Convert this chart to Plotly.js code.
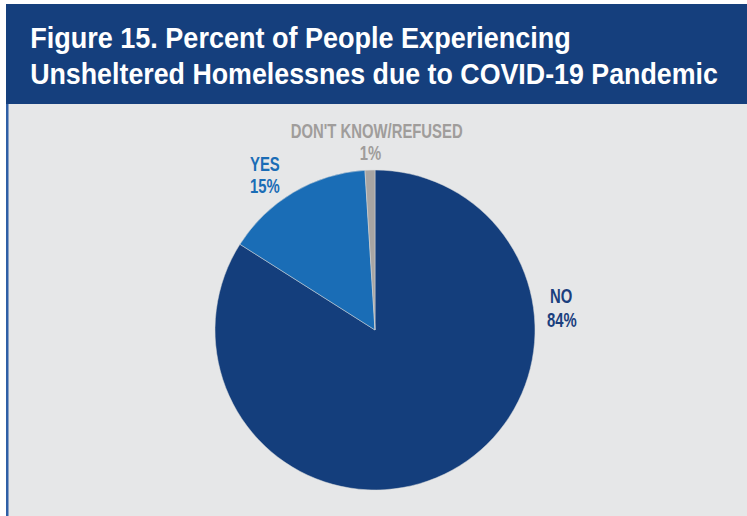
<!DOCTYPE html>
<html>
<head>
<meta charset="utf-8">
<script src="https://cdn.plot.ly/plotly-3.0.1.min.js"></script>
<style>
html,body{margin:0;padding:0;background:#fff;}
#chart{width:747px;height:516px;}
</style>
</head>
<body>
<div id="chart"></div>
<script>
var categories = ["NO", "YES", "DON'T KNOW/REFUSED"];
var values = [84, 15, 1];
var percentLabels = ["84%", "15%", "1%"];
var sliceColors = ["#143e7c", "#1a6db6", "#a8a5a3"];
var labelColors = ["#1b3f7e", "#1a6db6", "#a09d9b"];
var titleLines = ["Figure 15. Percent of People Experiencing", "Unsheltered Homelessnes due to COVID-19 Pandemic"];

var W = 747, H = 516;
function px(x){ return x / W; }
function py(y){ return 1 - y / H; }

var FONT = "Liberation Sans, Arial, sans-serif";

var trace = {
  type: 'pie',
  labels: categories,
  values: values,
  sort: false,
  direction: 'clockwise',
  rotation: 0,
  textinfo: 'none',
  hoverinfo: 'label+percent',
  marker: {colors: sliceColors, line: {color: '#d9dadb', width: 0.5}},
  domain: {x: [px(215), px(535)], y: [py(490), py(170)]},
  showlegend: false
};

// label layout: [name position, percent position] in pixels
var labelPos = [
  {nx: 548, ny: 296, px_: 545, py_: 319.5, anchor: 'left'},
  {nx: 248, ny: 164, px_: 248, py_: 186, anchor: 'left'},
  {nx: 376, ny: 131, px_: 370, py_: 153, anchor: 'center'}
];

var annotations = [];
var squeeze = []; // per annotation: {mode, value, origin}
categories.forEach(function(c, i){
  var p = labelPos[i];
  annotations.push({
    text: '<b>' + c + '</b>', x: px(p.nx), y: py(p.ny), xref: 'paper', yref: 'paper',
    xanchor: p.anchor, yanchor: 'middle', showarrow: false,
    font: {family: FONT, size: 20, color: labelColors[i]}
  });
  squeeze.push({origin: p.anchor});
  annotations.push({
    text: '<b>' + percentLabels[i] + '</b>', x: px(p.px_), y: py(p.py_), xref: 'paper', yref: 'paper',
    xanchor: p.anchor, yanchor: 'middle', showarrow: false,
    font: {family: FONT, size: 20, color: labelColors[i]}
  });
  squeeze.push({origin: p.anchor});
});

var titleY = [38, 74];
var titleWidth = [541, 688];
titleLines.forEach(function(t, i){
  annotations.push({
    text: '<b>' + t + '</b>', x: px(28), y: py(titleY[i]), xref: 'paper', yref: 'paper',
    xanchor: 'left', yanchor: 'middle', showarrow: false,
    font: {family: FONT, size: 29, color: '#ffffff'}
  });
  squeeze.push({origin: 'left', width: titleWidth[i]});
});

var layout = {
  width: W, height: H,
  margin: {l: 0, r: 0, t: 0, b: 0},
  paper_bgcolor: '#e6e7e8',
  plot_bgcolor: '#e6e7e8',
  shapes: [
    {type: 'rect', xref: 'paper', yref: 'paper', x0: 0, x1: 1, y0: py(4), y1: 1, fillcolor: '#ffffff', line: {width: 0}, layer: 'below'},
    {type: 'rect', xref: 'paper', yref: 'paper', x0: 0, x1: px(6), y0: 0, y1: 1, fillcolor: '#ffffff', line: {width: 0}, layer: 'below'},
    {type: 'rect', xref: 'paper', yref: 'paper', x0: px(6), x1: 1, y0: py(104), y1: py(4), fillcolor: '#153f7d', line: {width: 0}, layer: 'below'},
    {type: 'rect', xref: 'paper', yref: 'paper', x0: px(6), x1: px(8.5), y0: 0, y1: py(104), fillcolor: '#2e5fa6', line: {width: 0}, layer: 'below'}
  ],
  annotations: annotations
};

Plotly.newPlot('chart', [trace], layout, {displayModeBar: false, staticPlot: true}).then(function(gd){
  // condense the lettering horizontally (the original uses a condensed typeface)
  var texts = gd.querySelectorAll('.annotation .annotation-text');
  // factor for the pie labels from the "DON'T KNOW/REFUSED" label (target width 172px)
  var dkText = texts[4];
  var labelFactor = dkText ? 172 / dkText.getBBox().width : 0.8;
  texts.forEach(function(el, i){
    var s = squeeze[i];
    if (!s) return;
    var bb = el.getBBox();
    var f = s.width ? s.width / bb.width : labelFactor;
    var ox = s.origin === 'center' ? bb.x + bb.width / 2 : bb.x;
    var old = el.getAttribute('transform') || '';
    el.setAttribute('transform', old + ' translate(' + ox + ',0) scale(' + f + ',1) translate(' + (-ox) + ',0)');
  });
});
</script>
</body>
</html>
